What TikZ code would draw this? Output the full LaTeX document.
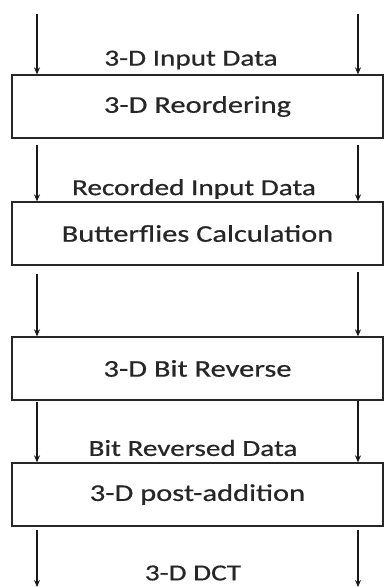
\documentclass[tikz,border=0pt]{standalone}
\usepackage{fontspec}
\setmainfont{Carlito}
\newfontfamily\thk{Carlito}[FakeBold=0.5]
\usetikzlibrary{arrows.meta}
\newcommand{\wtxt}[1]{\scalebox{1.27}[1]{#1}}
\begin{document}
\begin{tikzpicture}[x=1pt,y=-1pt,
  box/.style={draw=black!85, line width=1.3pt, minimum width=371pt, minimum height=63pt, inner sep=0pt, text=black!85, font=\thk\fontsize{24}{28}\selectfont},
  lbl/.style={inner sep=0pt, text=black!85, font=\thk\fontsize{23}{27}\selectfont},
  arr/.style={draw=black!90, line width=1.2pt, -{Stealth[length=7pt,width=6pt]}}]
\useasboundingbox (0,0) rectangle (384,587);
\node[box] (b1) at (197.5,106.5) {\wtxt{3-D Reordering}};
\node[box] (b2) at (197.5,233.5) {\wtxt{Butterflies Calculation}};
\node[box] (b3) at (197.5,368.5) {\wtxt{3-D Bit Reverse}};
\node[box] (b4) at (197.5,494.5) {\wtxt{3-D post-addition}};
\node[lbl] (l1) at (191,60) {\wtxt{3-D Input Data}};
\node[lbl] (l2) at (194,189) {\wtxt{Recorded Input Data}};
\node[lbl] (l3) at (193,448) {\wtxt{Bit Reversed Data}};
\node[lbl] (l4) at (193,573) {\wtxt{3-D DCT}};
\coordinate (s1l) at (37,14);  \coordinate (s1r) at (358,14);
\coordinate (s2l) at (37,145); \coordinate (s2r) at (358,145);
\coordinate (s3l) at (37,274); \coordinate (s3r) at (358,272);
\coordinate (s4l) at (37,402); \coordinate (s4r) at (358,401);
\coordinate (s5l) at (37,530); \coordinate (s5r) at (358,530);
\coordinate (e5l) at (37,587); \coordinate (e5r) at (358,587);
\draw[arr] (s1l) -- (s1l |- b1.north);
\draw[arr] (s1r) -- (s1r |- b1.north);
\draw[arr] (s2l) -- (s2l |- b2.north);
\draw[arr] (s2r) -- (s2r |- b2.north);
\draw[arr] (s3l) -- (s3l |- b3.north);
\draw[arr] (s3r) -- (s3r |- b3.north);
\draw[arr] (s4l) -- (s4l |- b4.north);
\draw[arr] (s4r) -- (s4r |- b4.north);
\draw[arr] (s5l) -- (e5l);
\draw[arr] (s5r) -- (e5r);
\end{tikzpicture}
\end{document}
